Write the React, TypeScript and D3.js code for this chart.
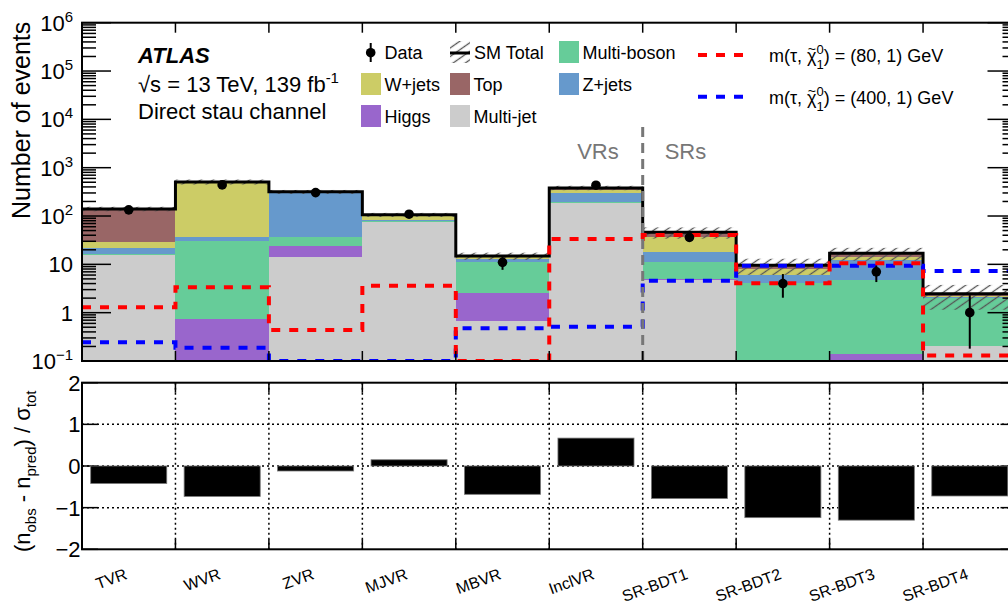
import { useEffect, useRef } from 'react'
import * as d3 from 'd3'

// ── values ───────────────────────────────────────────────────────────────────
const regions    = ['TVR', 'WVR', 'ZVR', 'MJVR', 'MBVR', 'InclVR', 'SR-BDT1', 'SR-BDT2', 'SR-BDT3', 'SR-BDT4']
const multiJet   = [15.7, 0,    14,   76.6, 0.67, 184, 4.75, 0,    0,    0.2]
const higgs      = [0.2,  0.74, 10,   0.4,  1.85, 2,   0.3,  0,    0.14, 0]
const multiBoson = [0.4,  30.3, 12.9, 1.0,  8.9,  6,   6.0,  4.06, 4.6,  1.8]
const zJets      = [5.2,  5.4,  260,  5.5,  1.5,  105, 6.8,  2.0,  7.6,  0.15]
const wJets      = [7.6,  457,  12,   17.5, 1.2,  50,  19.7, 2.0,  1.6,  0.1]
const topQuark   = [111,  15,   7,    5,    0.8,  35,  8.5,  1.5,  3.0,  0.2]
const totalErr   = [15,   60,   30,   10,   2.5,  40,  12,   3.5,  5,    1.3]
const dataObs    = [134,  440,  305,  109,  11,   434, 36,   4,    7,    1]
const dataErrLo  = [11.6, 21,   17.5, 10.4, 3.3,  20.8, 6,   1.96, 2.7,  0.82]
const dataErrHi  = [11.6, 21,   17.5, 10.4, 3.3,  20.8, 6,   2.3,  2.4,  1.3]
const sig80      = [1.29, 3.36, 0.44, 3.62, 0.05, 33.6, 40.6, 4.06, 10.5, 0.13]
const sig400     = [0.244, 0.188, 0.05, 0.05, 0.475, 0.513, 4.6, 9.4, 9.4, 7.3]
const pulls      = [-0.42, -0.73, -0.12, 0.15, -0.68, 0.67, -0.78, -1.24, -1.30, -0.72]
const logTickExp = [-1, 0, 1, 2, 3, 4, 5, 6]
const pullTicks  = [2, 1, 0, -1, -2]

// bottom → top stacking order
const processes = [
  { key: 'multijet',   label: 'Multi-jet',   color: '#cccccc', values: multiJet },
  { key: 'higgs',      label: 'Higgs',       color: '#9966cc', values: higgs },
  { key: 'multiboson', label: 'Multi-boson', color: '#66cc99', values: multiBoson },
  { key: 'zjets',      label: 'Z+jets',      color: '#6699cc', values: zJets },
  { key: 'wjets',      label: 'W+jets',      color: '#cccc66', values: wJets },
  { key: 'top',        label: 'Top',         color: '#996666', values: topQuark },
]

// ── layout ───────────────────────────────────────────────────────────────────
const W = 1008, H = 601
const X0 = 82, X1 = 1016.5
const TY0 = 22.7, TY1 = 361
const BY0 = 382.7, BY1 = 549.3
const FONT = '"Liberation Sans", Arial, Helvetica, sans-serif'
const C_RED = '#ff0000'
const C_BLUE = '#0000ff'

export default function App() {
  const ref = useRef<SVGSVGElement>(null)

  useEffect(() => {
    if (!ref.current) return
    const svg = d3.select(ref.current)
    svg.selectAll('*').remove()
    svg.attr('font-family', FONT)

    const x  = d3.scaleBand<string>().domain(regions).range([X0, X1]).padding(0)
    const bw = x.bandwidth()
    const y  = d3.scaleLog().domain([0.1, 1e6]).range([TY1, TY0]).clamp(true)
    const yv = (v: number) => y(Math.max(v, 0.1))
    const yr = d3.scaleLinear().domain([-2, 2]).range([BY1, BY0])

    // ── defs ──────────────────────────────────────────────────────────────
    const defs = svg.append('defs')
    defs.append('clipPath').attr('id', 'clip-top')
      .append('rect').attr('x', X0).attr('y', TY0).attr('width', X1 - X0).attr('height', TY1 - TY0)
    const pat = defs.append('pattern')
      .attr('id', 'hatch').attr('patternUnits', 'userSpaceOnUse')
      .attr('width', 10).attr('height', 7)
      .attr('patternTransform', 'rotate(-35)')
    pat.append('line').attr('x1', 0).attr('x2', 10).attr('y1', 3.5).attr('y2', 3.5)
      .attr('stroke', '#555').attr('stroke-width', 1.3)

    const gTop = svg.append('g').attr('clip-path', 'url(#clip-top)')

    // ── stacked backgrounds ───────────────────────────────────────────────
    const rows = regions.map((r, i) => {
      const o: Record<string, any> = { region: r }
      processes.forEach(p => { o[p.key] = p.values[i] })
      return o
    })
    const series = d3.stack<Record<string, any>>().keys(processes.map(p => p.key))(rows)
    series.forEach((s, k) => {
      gTop.append('g').selectAll('rect').data(s).join('rect')
        .attr('x', d => x(d.data.region)!)
        .attr('width', bw)
        .attr('y', d => yv(d[1]))
        .attr('height', d => Math.max(0, yv(d[0]) - yv(d[1])))
        .attr('fill', processes[k].color)
        .attr('shape-rendering', 'crispEdges')
    })

    const totals = regions.map((_, i) => d3.sum(processes, p => p.values[i]))

    // uncertainty band
    gTop.append('g').selectAll('rect').data(regions).join('rect')
      .attr('x', d => x(d)!)
      .attr('width', bw)
      .attr('y', (_, i) => yv(totals[i] + totalErr[i]))
      .attr('height', (_, i) => yv(totals[i] - totalErr[i]) - yv(totals[i] + totalErr[i]))
      .attr('fill', 'url(#hatch)')

    const step = (vals: number[]) => d3.line<[number, number]>()
      .x(d => d[0]).y(d => yv(d[1]))(
        regions.flatMap((r, i) => [[x(r)!, vals[i]], [x(r)! + bw, vals[i]]] as [number, number][]))

    gTop.append('path').attr('d', step(totals) ?? '')
      .attr('fill', 'none').attr('stroke', '#000').attr('stroke-width', 3)

    // ── signals ──────────────────────────────────────────────────────────
    gTop.append('path').attr('d', step(sig400) ?? '')
      .attr('fill', 'none').attr('stroke', C_BLUE).attr('stroke-width', 4)
      .attr('stroke-dasharray', '9,9')
    gTop.append('path').attr('d', step(sig80) ?? '')
      .attr('fill', 'none').attr('stroke', C_RED).attr('stroke-width', 4)
      .attr('stroke-dasharray', '9,9')

    // VR / SR separator
    const xs = x(regions[6])!
    svg.append('line').attr('x1', xs).attr('x2', xs).attr('y1', 127).attr('y2', TY1)
      .attr('stroke', '#777').attr('stroke-width', 3).attr('stroke-dasharray', '10,6')
    svg.append('text').attr('x', xs - 24).attr('y', 159).attr('text-anchor', 'end')
      .attr('font-size', 22).attr('fill', '#777').text('VRs')
    svg.append('text').attr('x', xs + 22).attr('y', 159)
      .attr('font-size', 22).attr('fill', '#777').text('SRs')

    // ── data ─────────────────────────────────────────────────────────────
    const gData = svg.append('g')
    gData.selectAll('line').data(regions).join('line')
      .attr('x1', d => x(d)! + bw / 2).attr('x2', d => x(d)! + bw / 2)
      .attr('y1', (_, i) => yv(dataObs[i] - dataErrLo[i]))
      .attr('y2', (_, i) => yv(dataObs[i] + dataErrHi[i]))
      .attr('stroke', '#000').attr('stroke-width', 2)
    gData.selectAll('circle').data(regions).join('circle')
      .attr('cx', d => x(d)! + bw / 2)
      .attr('cy', (_, i) => yv(dataObs[i]))
      .attr('r', 4.8).attr('fill', '#000')

    // ── top frame & ticks ────────────────────────────────────────────────
    svg.append('rect').attr('x', X0).attr('y', TY0).attr('width', X1 - X0).attr('height', TY1 - TY0)
      .attr('fill', 'none').attr('stroke', '#000').attr('stroke-width', 2)

    const logTicks: { v: number; major: boolean }[] = []
    for (let e = -1; e < 6; e++) for (let m = 1; m < 10; m++) logTicks.push({ v: m * 10 ** e, major: m === 1 })
    logTicks.push({ v: 1e6, major: true })
    const gt = svg.append('g').attr('stroke', '#000').attr('stroke-width', 1.5)
    logTicks.forEach(t => {
      const len = t.major ? 29 : 14
      gt.append('line').attr('x1', X0).attr('x2', X0 + len).attr('y1', y(t.v)).attr('y2', y(t.v))
      gt.append('line').attr('x1', X1).attr('x2', X1 - len).attr('y1', y(t.v)).attr('y2', y(t.v))
    })
    regions.slice(1).forEach(r => {
      const xx = x(r)!
      gt.append('line').attr('x1', xx).attr('x2', xx).attr('y1', TY0).attr('y2', TY0 + 10)
      gt.append('line').attr('x1', xx).attr('x2', xx).attr('y1', TY1).attr('y2', TY1 - 10)
      gt.append('line').attr('x1', xx).attr('x2', xx).attr('y1', BY0).attr('y2', BY0 + 10)
      gt.append('line').attr('x1', xx).attr('x2', xx).attr('y1', BY1).attr('y2', BY1 - 10)
    })

    logTickExp.forEach(e => {
      const t = svg.append('text').attr('x', 73).attr('y', y(10 ** e) + 8)
        .attr('text-anchor', 'end').attr('font-size', 22)
      if (e === 0) t.text('1')
      else if (e === 1) t.text('10')
      else {
        t.append('tspan').text('10')
        t.append('tspan').attr('dy', -9).attr('font-size', 15).text(e < 0 ? '\u22121' : String(e))
      }
    })

    svg.append('text')
      .attr('transform', `translate(30,${(TY0 + 218) / 2}) rotate(-90)`)
      .attr('text-anchor', 'middle').attr('font-size', 25).text('Number of events')

    // ── bottom panel ─────────────────────────────────────────────────────
    const gGrid = svg.append('g').attr('stroke', '#000').attr('stroke-width', 1.5).attr('stroke-dasharray', '2,3')
    regions.slice(1).forEach(r => {
      gGrid.append('line').attr('x1', x(r)!).attr('x2', x(r)!).attr('y1', BY0).attr('y2', BY1)
    })
    ;[1, 0, -1].forEach(v => {
      gGrid.append('line').attr('x1', X0).attr('x2', X1).attr('y1', yr(v)).attr('y2', yr(v))
    })

    svg.append('g').selectAll('rect').data(regions).join('rect')
      .attr('x', d => x(d)! + bw * 0.093)
      .attr('width', bw * 0.814)
      .attr('y', (_, i) => yr(Math.max(0, pulls[i])))
      .attr('height', (_, i) => Math.abs(yr(pulls[i]) - yr(0)))
      .attr('fill', '#000').attr('stroke', '#777').attr('stroke-width', 0.8)

    svg.append('rect').attr('x', X0).attr('y', BY0).attr('width', X1 - X0).attr('height', BY1 - BY0)
      .attr('fill', 'none').attr('stroke', '#000').attr('stroke-width', 2)
    pullTicks.forEach(v => {
      gt.append('line').attr('x1', X0).attr('x2', X0 + 16).attr('y1', yr(v)).attr('y2', yr(v))
      gt.append('line').attr('x1', X1).attr('x2', X1 - 16).attr('y1', yr(v)).attr('y2', yr(v))
      svg.append('text').attr('x', 80.5).attr('y', yr(v) + 8).attr('text-anchor', 'end')
        .attr('font-size', 22).text(v < 0 ? `\u2212${-v}` : String(v))
    })

    const yt = svg.append('text')
      .attr('transform', `translate(30,${(BY0 + 560) / 2}) rotate(-90)`)
      .attr('text-anchor', 'middle').attr('font-size', 22)
    yt.append('tspan').text('(n')
    yt.append('tspan').attr('dy', 6).attr('font-size', 15).text('obs')
    yt.append('tspan').attr('dy', -6).text(' - n')
    yt.append('tspan').attr('dy', 6).attr('font-size', 15).text('pred')
    yt.append('tspan').attr('dy', -6).text(') / \u03c3')
    yt.append('tspan').attr('dy', 6).attr('font-size', 15).text('tot')

    // x labels
    svg.append('g').selectAll('text').data(regions).join('text')
      .attr('transform', d => `translate(${x(d)! + bw / 2 - 0.5},578.5) rotate(-20)`)
      .attr('text-anchor', 'end').attr('font-size', 16).text(d => d)

    // ── annotations ──────────────────────────────────────────────────────
    svg.append('text').attr('x', 138).attr('y', 62.5).attr('font-size', 22)
      .attr('font-weight', 'bold').attr('font-style', 'italic').text('ATLAS')
    const lum = svg.append('text').attr('x', 138).attr('y', 91.7).attr('font-size', 22)
    lum.append('tspan').text('\u221as = 13 TeV, 139 fb')
    lum.append('tspan').attr('dy', -9).attr('font-size', 15).text('-1')
    svg.append('text').attr('x', 138).attr('y', 119).attr('font-size', 22).text('Direct stau channel')

    // ── legend ───────────────────────────────────────────────────────────
    const cols = [361, 450, 559]
    const rowsY = [52, 84, 116]
    const boxes = [
      { c: 2, r: 0, p: 'multiboson' },
      { c: 0, r: 1, p: 'wjets' },
      { c: 1, r: 1, p: 'top' },
      { c: 2, r: 1, p: 'zjets' },
      { c: 0, r: 2, p: 'higgs' },
      { c: 1, r: 2, p: 'multijet' },
    ]
    const gl = svg.append('g')
    boxes.forEach(b => {
      const p = processes.find(q => q.key === b.p)!
      gl.append('rect').attr('x', cols[b.c]).attr('y', rowsY[b.r] - 11).attr('width', 20).attr('height', 22)
        .attr('fill', p.color)
      gl.append('text').attr('x', cols[b.c] + 23.5).attr('y', rowsY[b.r] + 7).attr('font-size', 18).text(p.label)
    })
    gl.append('line').attr('x1', 370.7).attr('x2', 370.7).attr('y1', 43).attr('y2', 62)
      .attr('stroke', '#000').attr('stroke-width', 2)
    gl.append('circle').attr('cx', 370.7).attr('cy', 52.7).attr('r', 4.8).attr('fill', '#000')
    gl.append('text').attr('x', 384.5).attr('y', 59).attr('font-size', 18).text('Data')
    gl.append('rect').attr('x', 450).attr('y', 41).attr('width', 20).attr('height', 22).attr('fill', 'url(#hatch)')
    gl.append('line').attr('x1', 450).attr('x2', 470).attr('y1', 53).attr('y2', 53)
      .attr('stroke', '#000').attr('stroke-width', 3)
    gl.append('text').attr('x', 474).attr('y', 59).attr('font-size', 18).text('SM Total')

    const sigLegend = [
      { yy: 55, color: C_RED, mass: '80' },
      { yy: 96.7, color: C_BLUE, mass: '400' },
    ]
    sigLegend.forEach(s => {
      gl.append('line').attr('x1', 698).attr('x2', 750).attr('y1', s.yy).attr('y2', s.yy)
        .attr('stroke', s.color).attr('stroke-width', 4).attr('stroke-dasharray', '9,9')
      const t = gl.append('text').attr('x', 769).attr('y', s.yy + 7).attr('font-size', 18)
      t.append('tspan').text('m(\u03c4, \u03c7')
      t.append('tspan').attr('dy', -8).attr('font-size', 13).text('0')
      t.append('tspan').attr('dx', -7.2).attr('dy', 15).attr('font-size', 13).text('1')
      t.append('tspan').attr('dy', -7).text(`) = (${s.mass}, 1) GeV`)
      // tilde over chi
      const node = t.node() as SVGTextElement
      const a = node.getStartPositionOfChar(5)
      const b = node.getEndPositionOfChar(5)
      gl.append('text').attr('x', (a.x + b.x) / 2).attr('y', s.yy + 7 - 8)
        .attr('text-anchor', 'middle').attr('font-size', 14).text('~')
    })
  }, [])

  return (
    <svg
      ref={ref}
      width={W}
      height={H}
      viewBox={`0 0 ${W} ${H}`}
      style={{ position: 'absolute', left: 0, top: 0, background: '#fff', display: 'block' }}
    />
  )
}
